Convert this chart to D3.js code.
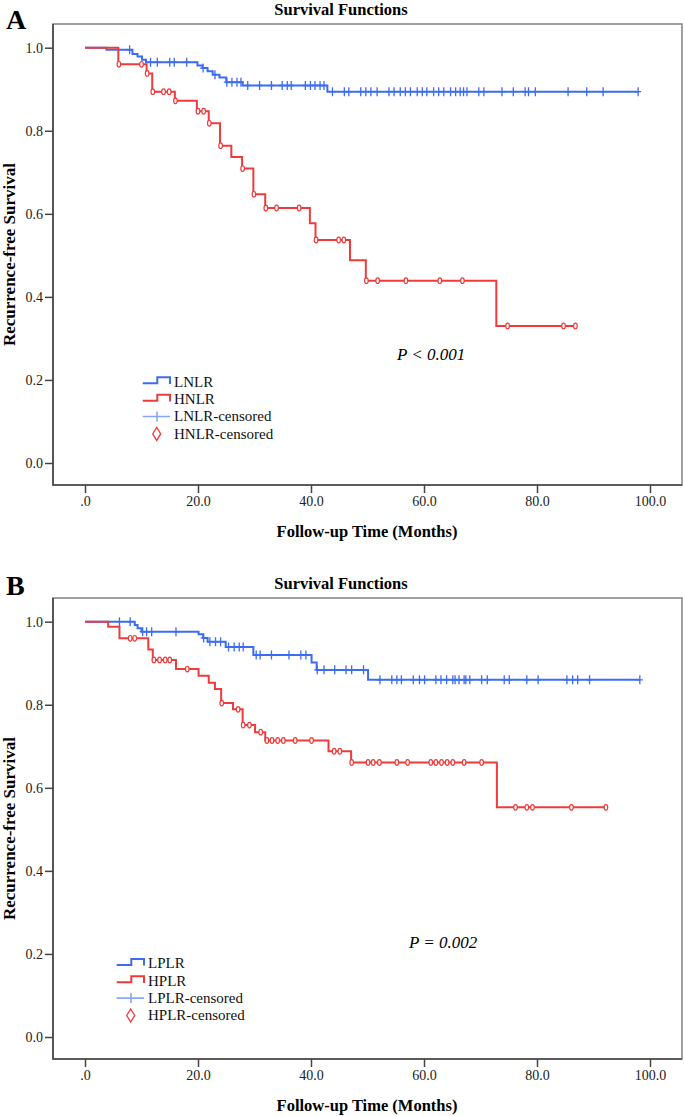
<!DOCTYPE html>
<html>
<head>
<meta charset="utf-8">
<script src="https://cdn.jsdelivr.net/npm/d3@7"></script>
<style>
  html, body { margin: 0; padding: 0; background: #fff; }
  svg { display: block; }
</style>
</head>
<body>
<script>
// ---------------- DATA ----------------
const xTicks = [0, 20, 40, 60, 80, 100];
const xTickLabels = [".0", "20.0", "40.0", "60.0", "80.0", "100.0"];
const yTicks = [0, 0.2, 0.4, 0.6, 0.8, 1.0];
const yTickLabels = ["0.0", "0.2", "0.4", "0.6", "0.8", "1.0"];

// Panel A: NLR
const lnlrEventTimes = [3.8, 8.4, 9.3, 10.1, 10.8, 19.9, 20.8, 21.7, 22.6, 23.8, 25.0, 27.9, 42.9];
const lnlrSurv       = [0.995, 0.985, 0.979, 0.971, 0.965, 0.957, 0.951, 0.943, 0.935, 0.928, 0.917, 0.909, 0.894];
const lnlrCensored   = [7.9, 11.6, 12.8, 15.0, 15.8, 18.0, 20.9, 23.0, 25.1, 26.0, 26.9, 27.6,
  28.8, 30.9, 33.0, 34.9, 35.8, 36.5, 39.0, 39.9, 40.7, 41.6, 42.3,
  43.8, 45.9, 46.7, 48.8, 49.7, 50.6, 51.7, 53.8, 54.7, 55.8, 56.7, 57.6, 58.8, 59.7, 60.5,
  61.7, 62.6, 63.5, 64.7, 65.6, 66.4, 67.0, 67.6, 69.7, 70.6, 73.8, 75.8, 77.9, 78.5, 79.7,
  85.5, 88.8, 91.7, 97.9];

const hnlrEventTimes = [5.9, 10.9, 11.9, 15.9, 19.8, 21.9, 23.9, 25.9, 27.8, 29.8, 31.9, 39.8, 40.8, 46.9, 49.7, 72.8];
const hnlrSurv       = [0.960, 0.938, 0.894, 0.872, 0.847, 0.818, 0.764, 0.737, 0.709, 0.647, 0.614, 0.577, 0.537, 0.488, 0.439, 0.330];
const hnlrCensored   = [6.0, 10.0, 11.0, 12.0, 13.9, 14.9, 16.0, 20.0, 21.0, 22.0, 24.0, 27.9, 29.9, 32.0,
  33.9, 37.9, 40.9, 44.9, 45.8, 49.8, 51.8, 56.8, 62.8, 66.8, 74.8, 84.7, 86.8];

// Panel B: PLR
const lplrEventTimes = [8.8, 9.3, 10.0, 20.1, 20.9, 21.7, 24.9, 29.8, 40.1, 41.0, 50.1];
const lplrSurv       = [0.992, 0.984, 0.976, 0.970, 0.961, 0.952, 0.939, 0.920, 0.902, 0.884, 0.860];
const lplrCensored   = [6.1, 8.0, 10.2, 10.9, 11.8, 16.1, 21.0, 22.1, 23.1, 24.0, 25.4, 26.4, 27.3, 28.0,
  30.3, 31.0, 33.0, 36.1, 38.2, 39.1, 41.1, 42.3, 44.2, 46.2, 47.2, 49.3, 52.2, 54.3, 55.2, 56.0,
  58.1, 59.2, 60.1, 62.1, 63.0, 64.0, 65.1, 65.5, 66.2, 67.1, 67.4, 68.1, 70.2, 71.2, 74.2, 75.1,
  78.2, 80.2, 85.3, 86.3, 87.2, 89.3, 98.2];

const hplrEventTimes = [4.1, 6.1, 11.2, 12.0, 16.1, 20.1, 21.9, 23.0, 24.1, 26.2, 27.9, 30.1, 31.9, 43.1, 47.1, 72.9];
const hplrSurv       = [0.988, 0.960, 0.933, 0.908, 0.886, 0.870, 0.853, 0.838, 0.804, 0.789, 0.751, 0.734, 0.714, 0.688, 0.661, 0.553];
const hplrCensored   = [8.0, 8.8, 12.2, 13.2, 14.2, 15.0, 18.1, 24.2, 27.1, 28.0, 29.1, 31.1, 32.2, 33.1,
  34.1, 35.1, 37.2, 40.1, 44.1, 45.1, 47.2, 50.1, 51.0, 52.1, 55.2, 57.1, 61.2, 62.1, 63.1, 64.1,
  65.1, 67.1, 70.2, 76.2, 78.2, 79.2, 86.1, 92.2];

const titleText = "Survival Functions";
const xTitle = "Follow-up Time (Months)";
const yTitle = "Recurrence-free Survival";

// ---------------- LAYOUT / STYLE ----------------
const W = 685, H = 1116;
const BLUE = "#3d6cf2", RED = "#ef3b3b", LIGHTBLUE = "#86a6f6";
const SERIF = "'Liberation Serif', 'Times New Roman', serif";

const panels = [
  { letter: "A", oy: 0, letterY: 29,
    low:  { name: "LNLR", t: lnlrEventTimes, s: lnlrSurv, c: lnlrCensored },
    high: { name: "HNLR", t: hnlrEventTimes, s: hnlrSurv, c: hnlrCensored },
    legend: { x: 142.7, y: 381.7 }, p: { x: 397, y: 360, text: "P < 0.001" } },
  { letter: "B", oy: 574, letterY: 21,
    low:  { name: "LPLR", t: lplrEventTimes, s: lplrSurv, c: lplrCensored },
    high: { name: "HPLR", t: hplrEventTimes, s: hplrSurv, c: hplrCensored },
    legend: { x: 116.7, y: 389.3 }, p: { x: 409, y: 374, text: "P = 0.002" } }
];

const box = { l: 53, r: 682, t: 24, b: 485 };
const x = d3.scaleLinear().domain([0, 100]).range([85, 650]);
const y = d3.scaleLinear().domain([0, 1]).range([463, 47.7]);

const svg = d3.select("body").append("svg")
  .attr("width", W).attr("height", H)
  .attr("viewBox", `0 0 ${W} ${H}`);
svg.append("rect").attr("width", W).attr("height", H).attr("fill", "#fff");

function survAt(series, t) {
  const i = d3.bisectRight(series.t, t);
  return i === 0 ? 1 : series.s[i - 1];
}

function drawCurve(g, series, color) {
  const end = d3.max(series.c);
  const pts = [[0, 1]].concat(series.t.map((t, i) => [t, series.s[i]]));
  pts.push([end, series.s[series.s.length - 1]]);
  const line = d3.line().x(d => x(d[0])).y(d => y(d[1])).curve(d3.curveStepAfter);
  g.append("path").attr("d", line(pts))
    .attr("fill", "none").attr("stroke", color).attr("stroke-width", 2)
    .attr("stroke-linejoin", "miter");
}

function drawCensorPlus(g, series, color) {
  g.selectAll(null).data(series.c).enter().append("path")
    .attr("d", d => {
      const cx = x(d), cy = y(survAt(series, d));
      return `M${cx},${cy - 4.5}V${cy + 4.5}M${cx - 3},${cy}H${cx + 3}`;
    })
    .attr("stroke", color).attr("stroke-width", 1.3).attr("fill", "none");
}

function drawCensorDiamond(g, series, color) {
  g.selectAll(null).data(series.c).enter().append("ellipse")
    .attr("cx", d => x(d)).attr("cy", d => y(survAt(series, d)))
    .attr("rx", 1.8).attr("ry", 2.8)
    .attr("fill", "#fff").attr("stroke", color).attr("stroke-width", 1.2);
}

panels.forEach(P => {
  const g = svg.append("g").attr("transform", `translate(0,${P.oy})`);

  // panel letter
  g.append("text").attr("x", 6).attr("y", P.letterY)
    .attr("font-family", SERIF).attr("font-weight", "bold").attr("font-size", 28)
    .text(P.letter);

  // title
  g.append("text").attr("x", 341).attr("y", 15).attr("text-anchor", "middle")
    .attr("font-family", SERIF).attr("font-weight", "bold").attr("font-size", 16.5)
    .text(titleText);

  // frame
  g.append("rect").attr("x", box.l).attr("y", box.t)
    .attr("width", box.r - box.l).attr("height", box.b - box.t)
    .attr("fill", "none").attr("stroke", "#8a8a8a").attr("stroke-width", 1.6);
  g.append("path").attr("d", `M${box.l},${box.t}V${box.b}H${box.r}`)
    .attr("fill", "none").attr("stroke", "#444").attr("stroke-width", 1.6);

  // axes
  const xa = g.append("g").attr("transform", `translate(0,${box.b})`)
    .call(d3.axisBottom(x).tickValues(xTicks).tickFormat((d, i) => xTickLabels[i]).tickSize(8).tickPadding(3));
  const ya = g.append("g").attr("transform", `translate(${box.l},0)`)
    .call(d3.axisLeft(y).tickValues(yTicks).tickFormat((d, i) => yTickLabels[i]).tickSize(8).tickPadding(2));
  [xa, ya].forEach(a => {
    a.select(".domain").remove();
    a.selectAll(".tick line").attr("stroke", "#444").attr("stroke-width", 1.5);
    a.selectAll(".tick text").attr("font-family", SERIF).attr("font-size", 14).attr("fill", "#222");
  });

  // axis titles
  g.append("text").attr("x", 367).attr("y", 537).attr("text-anchor", "middle")
    .attr("font-family", SERIF).attr("font-weight", "bold").attr("font-size", 16.5)
    .text(xTitle);
  g.append("text").attr("transform", `translate(15,${(box.t + box.b) / 2}) rotate(-90)`)
    .attr("text-anchor", "middle")
    .attr("font-family", SERIF).attr("font-weight", "bold").attr("font-size", 17)
    .text(yTitle);

  // curves
  drawCurve(g, P.low, BLUE);
  drawCurve(g, P.high, RED);
  drawCensorPlus(g, P.low, BLUE);
  drawCensorDiamond(g, P.high, RED);

  // P value
  g.append("text").attr("x", P.p.x).attr("y", P.p.y)
    .attr("font-family", SERIF).attr("font-style", "italic").attr("font-size", 17)
    .text(P.p.text);

  // legend
  const L = g.append("g").attr("transform", `translate(${P.legend.x},${P.legend.y})`);
  const rows = [
    { label: P.low.name, kind: "step", color: BLUE },
    { label: P.high.name, kind: "step", color: RED },
    { label: P.low.name + "-censored", kind: "plus", color: LIGHTBLUE },
    { label: P.high.name + "-censored", kind: "diamond", color: RED }
  ];
  rows.forEach((r, i) => {
    const ry = i * 17.4;
    if (r.kind === "step") {
      L.append("path").attr("d", `M0,${ry + 1.6}H14.6V${ry - 4.4}H27.3V${ry + 2.3}`)
        .attr("fill", "none").attr("stroke", r.color).attr("stroke-width", 2);
    } else if (r.kind === "plus") {
      L.append("path").attr("d", `M0,${ry}H27.3M14.3,${ry - 5}V${ry + 5}`)
        .attr("fill", "none").attr("stroke", r.color).attr("stroke-width", 1.6);
    } else {
      L.append("path").attr("d", `M14,${ry - 6.5}L18,${ry}L14,${ry + 6.5}L10,${ry}Z`)
        .attr("fill", "#fff").attr("stroke", r.color).attr("stroke-width", 1.3);
    }
    L.append("text").attr("x", 31.3).attr("y", ry + 5)
      .attr("font-family", SERIF).attr("font-size", 15).attr("fill", "#111")
      .text(r.label);
  });
});
</script>
</body>
</html>
